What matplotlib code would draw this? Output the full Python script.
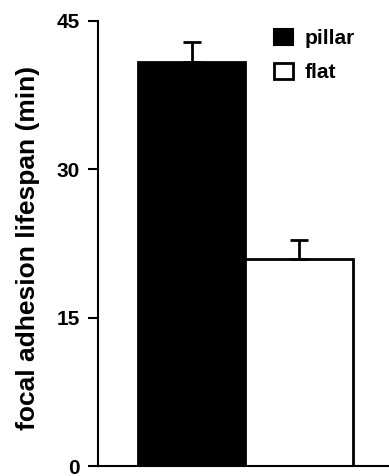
import numpy as np
import matplotlib
matplotlib.use('Agg')
import matplotlib.pyplot as plt

plt.rcParams['font.family'] = ['Liberation Sans', 'DejaVu Sans']
plt.rcParams['font.weight'] = 'bold'

conditions = ['pillar', 'flat']
lifespan = [40.85, 20.95]
err_up = [2.0, 1.95]
face = ['black', 'white']

fig = plt.figure(figsize=(3.89, 4.76), dpi=100)
ax = fig.add_axes([0.252, 0.021, 0.748, 0.935])

x = np.arange(len(conditions))
ax.bar(x, lifespan, width=1.0, color=face, edgecolor='black', linewidth=2)
ax.errorbar(x, lifespan, yerr=[np.zeros(len(err_up)), err_up], fmt='none',
            ecolor='black', elinewidth=2, capsize=6.5, capthick=2)

# legend handles
h1 = ax.bar([0], [0], color='black', edgecolor='black', linewidth=1.5, label=conditions[0])
h2 = ax.bar([0], [0], color='white', edgecolor='black', linewidth=2, label=conditions[1])
ax.legend(handles=[h1, h2], loc='upper left', bbox_to_anchor=(0.548, 1.02),
          frameon=False, handlelength=0.9, handleheight=0.85, handletextpad=0.55,
          labelspacing=0.7, borderpad=0.3, prop={'size': 15, 'weight': 'bold'})

ax.set_xlim(-0.872, 1.84)
ax.set_ylim(0, 45)
ax.set_yticks([0, 15, 30, 45])
ax.set_xticks([])
ax.tick_params(axis='y', direction='out', length=7, width=1.5, labelsize=15, pad=6)
for t in ax.get_yticklabels():
    t.set_fontweight('bold')
ax.spines['top'].set_visible(False)
ax.spines['right'].set_visible(False)
ax.spines['left'].set_linewidth(1.5)
ax.spines['bottom'].set_linewidth(1.5)
fig.text(28 / 389, 0.479, 'focal adhesion lifespan (min)', rotation=90,
         ha='center', va='center', fontsize=19, fontweight='bold')

fig.savefig('out.png', dpi=100)
